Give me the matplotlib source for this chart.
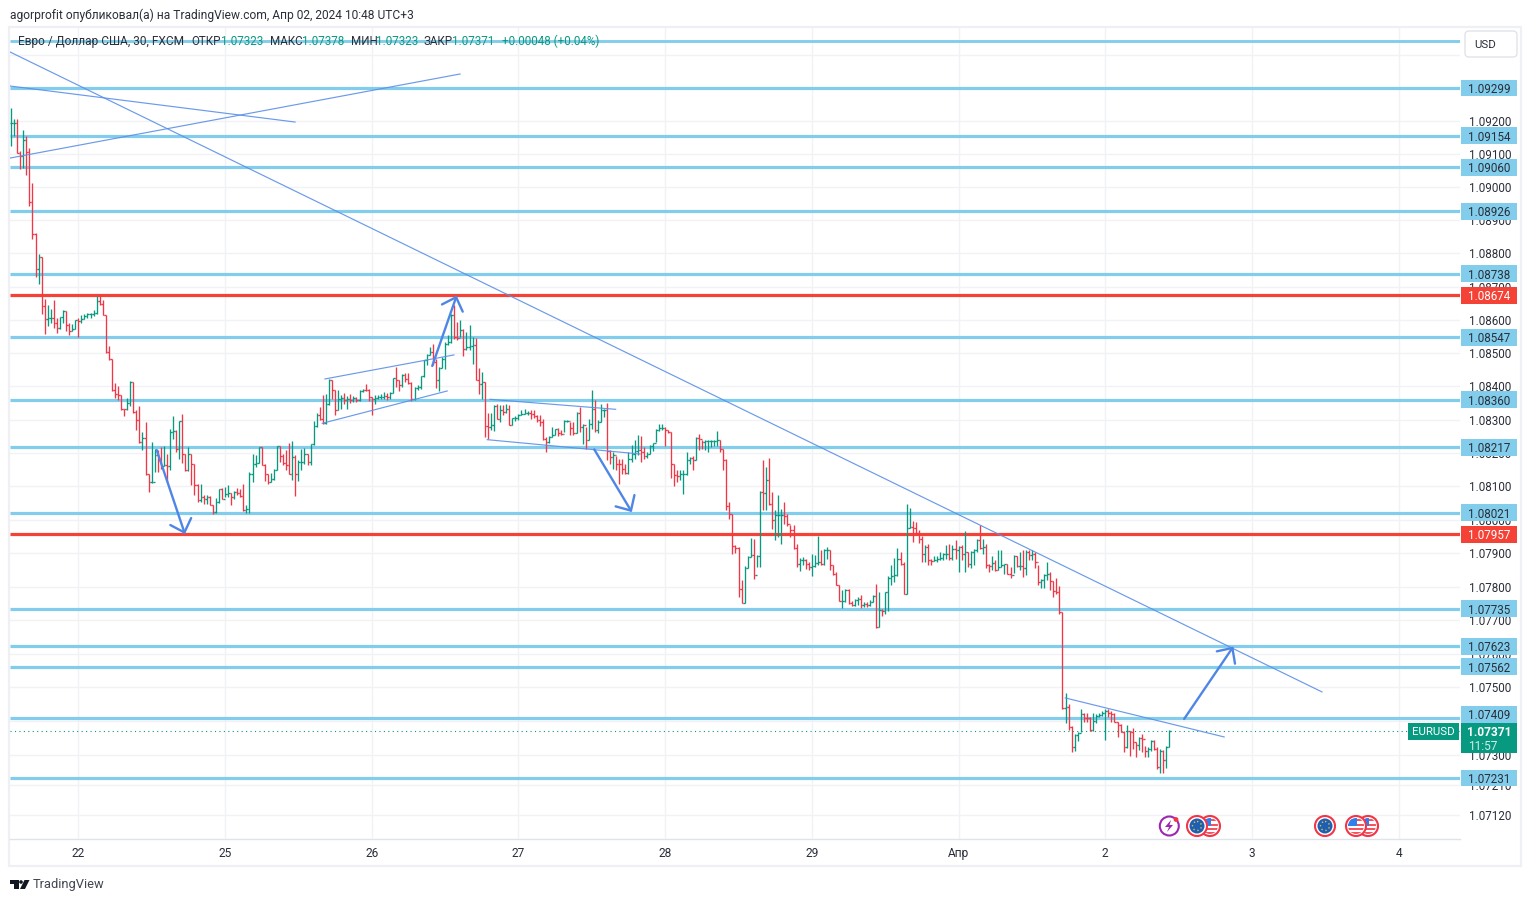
import math
import matplotlib
matplotlib.use('Agg')
import matplotlib.pyplot as plt
from matplotlib.patches import Rectangle, Circle, Polygon, FancyBboxPatch
from matplotlib.ticker import NullLocator
from matplotlib.transforms import blended_transform_factory

plt.rcParams['font.family'] = ['Roboto', 'DejaVu Sans']

# 30 min bars EURUSD with a straight ruler
high = [
    1.09238, 1.09206, 1.09206, 1.09110, 1.09173, 1.09155, 1.09118, 1.09013, 1.08863, 1.08800,
    1.08793, 1.08668, 1.08650, 1.08636, 1.08665, 1.08611, 1.08613, 1.08635, 1.08631, 1.08596,
    1.08593, 1.08605, 1.08611, 1.08618, 1.08621, 1.08626, 1.08626, 1.08633, 1.08675, 1.08683,
    1.08663, 1.08618, 1.08527, 1.08486, 1.08416, 1.08406, 1.08379, 1.08338, 1.08371, 1.08421,
    1.08419, 1.08333, 1.08347, 1.08269, 1.08299, 1.08141, 1.08237, 1.08218, 1.08213, 1.08223,
    1.08227, 1.08203, 1.08278, 1.08315, 1.08273, 1.08301, 1.08321, 1.08201, 1.08223, 1.08203,
    1.08173, 1.08113, 1.08113, 1.08078, 1.08080, 1.08075, 1.08048, 1.08070, 1.08098, 1.08101,
    1.08103, 1.08108, 1.08085, 1.08091, 1.08101, 1.08098, 1.08113, 1.08048, 1.08148, 1.08203,
    1.08198, 1.08223, 1.08223, 1.08171, 1.08143, 1.08145, 1.08158, 1.08227, 1.08225, 1.08203,
    1.08213, 1.08235, 1.08240, 1.08198, 1.08183, 1.08218, 1.08221, 1.08203, 1.08233, 1.08300,
    1.08326, 1.08343, 1.08378, 1.08381, 1.08428, 1.08425, 1.08395, 1.08393, 1.08378, 1.08385,
    1.08375, 1.08383, 1.08375, 1.08373, 1.08395, 1.08398, 1.08413, 1.08396, 1.08373, 1.08378,
    1.08378, 1.08383, 1.08387, 1.08385, 1.08388, 1.08431, 1.08463, 1.08425, 1.08441, 1.08446,
    1.08446, 1.08418, 1.08403, 1.08408, 1.08436, 1.08485, 1.08503, 1.08523, 1.08533, 1.08488,
    1.08463, 1.08493, 1.08538, 1.08558, 1.08623, 1.08648, 1.08598, 1.08603, 1.08578, 1.08568,
    1.08588, 1.08553, 1.08551, 1.08461, 1.08448, 1.08418, 1.08325, 1.08325, 1.08348, 1.08353,
    1.08348, 1.08350, 1.08351, 1.08348, 1.08311, 1.08315, 1.08323, 1.08333, 1.08338, 1.08331,
    1.08333, 1.08333, 1.08318, 1.08318, 1.08308, 1.08253, 1.08255, 1.08283, 1.08278, 1.08281,
    1.08273, 1.08303, 1.08305, 1.08298, 1.08298, 1.08328, 1.08343, 1.08293, 1.08283, 1.08308,
    1.08393, 1.08363, 1.08303, 1.08351, 1.08338, 1.08355, 1.08213, 1.08208, 1.08195, 1.08188,
    1.08188, 1.08173, 1.08208, 1.08228, 1.08243, 1.08258, 1.08255, 1.08223, 1.08208, 1.08228,
    1.08236, 1.08278, 1.08293, 1.08293, 1.08283, 1.08275, 1.08268, 1.08173, 1.08153, 1.08153,
    1.08153, 1.08208, 1.08193, 1.08195, 1.08253, 1.08263, 1.08243, 1.08243, 1.08245, 1.08243,
    1.08243, 1.08270, 1.08243, 1.08218, 1.08188, 1.08058, 1.08023, 1.07928, 1.07923, 1.07823,
    1.07865, 1.07895, 1.07951, 1.07948, 1.07898, 1.08091, 1.08183, 1.08163, 1.08191, 1.08088,
    1.08033, 1.08078, 1.08038, 1.08058, 1.08023, 1.07988, 1.07988, 1.07933, 1.07891, 1.07893,
    1.07888, 1.07878, 1.07901, 1.07898, 1.07955, 1.07915, 1.07918, 1.07923, 1.07915, 1.07868,
    1.07848, 1.07808, 1.07795, 1.07798, 1.07798, 1.07763, 1.07768, 1.07773, 1.07778, 1.07758,
    1.07758, 1.07765, 1.07778, 1.07813, 1.07788, 1.07738, 1.07788, 1.07835, 1.07868, 1.07891,
    1.07921, 1.07908, 1.07878, 1.08051, 1.08041, 1.08001, 1.07998, 1.07973, 1.07955, 1.07928,
    1.07931, 1.07888, 1.07895, 1.07895, 1.07908, 1.07905, 1.07928, 1.07931, 1.07928, 1.07945,
    1.07925, 1.07928, 1.07970, 1.07908, 1.07911, 1.07918, 1.07948, 1.07988, 1.07948, 1.07933,
    1.07873, 1.07895, 1.07883, 1.07915, 1.07913, 1.07873, 1.07873, 1.07863, 1.07898, 1.07895,
    1.07908, 1.07913, 1.07915, 1.07913, 1.07915, 1.07908, 1.07868, 1.07828, 1.07843, 1.07878,
    1.07848, 1.07821, 1.07831, 1.07805, 1.07728, 1.07485, 1.07453, 1.07388, 1.07363, 1.07368,
    1.07438, 1.07425, 1.07425, 1.07413, 1.07427, 1.07423, 1.07425, 1.07431, 1.07438, 1.07438,
    1.07433, 1.07425, 1.07400, 1.07393, 1.07371, 1.07391, 1.07373, 1.07381, 1.07338, 1.07353,
    1.07363, 1.07328, 1.07323, 1.07345, 1.07345, 1.07323, 1.07318, 1.07315, 1.07328, 1.07375,
]
low = [
    1.09126, 1.09156, 1.09103, 1.09055, 1.09058, 1.09039, 1.08946, 1.08845, 1.08733, 1.08712,
    1.08621, 1.08563, 1.08586, 1.08595, 1.08581, 1.08565, 1.08578, 1.08595, 1.08571, 1.08559,
    1.08571, 1.08576, 1.08553, 1.08595, 1.08608, 1.08611, 1.08609, 1.08615, 1.08623, 1.08648,
    1.08618, 1.08506, 1.08483, 1.08391, 1.08370, 1.08365, 1.08335, 1.08316, 1.08335, 1.08346,
    1.08326, 1.08275, 1.08235, 1.08214, 1.08140, 1.08088, 1.08116, 1.08148, 1.08148, 1.08158,
    1.08165, 1.08118, 1.08153, 1.08247, 1.08208, 1.08188, 1.08175, 1.08151, 1.08150, 1.08108,
    1.08078, 1.08058, 1.08058, 1.08051, 1.08053, 1.08048, 1.08021, 1.08025, 1.08055, 1.08068,
    1.08073, 1.08073, 1.08048, 1.08067, 1.08078, 1.08073, 1.08031, 1.08025, 1.08025, 1.08118,
    1.08163, 1.08175, 1.08168, 1.08121, 1.08111, 1.08118, 1.08123, 1.08153, 1.08178, 1.08168,
    1.08153, 1.08141, 1.08123, 1.08076, 1.08121, 1.08153, 1.08171, 1.08168, 1.08168, 1.08230,
    1.08283, 1.08303, 1.08293, 1.08293, 1.08348, 1.08368, 1.08318, 1.08333, 1.08336, 1.08351,
    1.08338, 1.08356, 1.08358, 1.08358, 1.08361, 1.08388, 1.08391, 1.08361, 1.08318, 1.08353,
    1.08366, 1.08366, 1.08368, 1.08365, 1.08368, 1.08385, 1.08403, 1.08391, 1.08403, 1.08418,
    1.08411, 1.08361, 1.08365, 1.08395, 1.08398, 1.08433, 1.08468, 1.08498, 1.08468, 1.08400,
    1.08390, 1.08461, 1.08458, 1.08528, 1.08535, 1.08548, 1.08545, 1.08553, 1.08495, 1.08513,
    1.08513, 1.08471, 1.08423, 1.08383, 1.08368, 1.08253, 1.08246, 1.08273, 1.08271, 1.08308,
    1.08298, 1.08318, 1.08325, 1.08288, 1.08288, 1.08301, 1.08305, 1.08318, 1.08321, 1.08318,
    1.08308, 1.08311, 1.08298, 1.08285, 1.08245, 1.08208, 1.08235, 1.08253, 1.08258, 1.08255,
    1.08258, 1.08268, 1.08298, 1.08258, 1.08258, 1.08265, 1.08268, 1.08233, 1.08216, 1.08243,
    1.08278, 1.08268, 1.08265, 1.08298, 1.08313, 1.08185, 1.08173, 1.08158, 1.08153, 1.08111,
    1.08143, 1.08141, 1.08143, 1.08178, 1.08188, 1.08198, 1.08178, 1.08188, 1.08191, 1.08203,
    1.08211, 1.08238, 1.08271, 1.08273, 1.08225, 1.08265, 1.08131, 1.08106, 1.08118, 1.08123,
    1.08083, 1.08138, 1.08173, 1.08155, 1.08183, 1.08215, 1.08218, 1.08213, 1.08208, 1.08223,
    1.08225, 1.08225, 1.08208, 1.08155, 1.08033, 1.08008, 1.07903, 1.07905, 1.07773, 1.07755,
    1.07755, 1.07861, 1.07893, 1.07828, 1.07863, 1.07863, 1.08033, 1.08033, 1.08048, 1.07978,
    1.07943, 1.07953, 1.07933, 1.07991, 1.07985, 1.07953, 1.07918, 1.07863, 1.07851, 1.07868,
    1.07858, 1.07853, 1.07835, 1.07863, 1.07868, 1.07868, 1.07868, 1.07888, 1.07855, 1.07838,
    1.07808, 1.07763, 1.07741, 1.07758, 1.07753, 1.07748, 1.07748, 1.07751, 1.07741, 1.07743,
    1.07745, 1.07748, 1.07758, 1.07681, 1.07683, 1.07718, 1.07723, 1.07731, 1.07808, 1.07818,
    1.07835, 1.07868, 1.07783, 1.07783, 1.07981, 1.07938, 1.07961, 1.07935, 1.07878, 1.07878,
    1.07868, 1.07868, 1.07880, 1.07878, 1.07883, 1.07885, 1.07888, 1.07883, 1.07885, 1.07888,
    1.07848, 1.07883, 1.07848, 1.07863, 1.07861, 1.07868, 1.07908, 1.07918, 1.07903, 1.07861,
    1.07848, 1.07853, 1.07851, 1.07853, 1.07863, 1.07843, 1.07841, 1.07831, 1.07845, 1.07863,
    1.07855, 1.07833, 1.07838, 1.07883, 1.07883, 1.07861, 1.07808, 1.07801, 1.07801, 1.07823,
    1.07793, 1.07773, 1.07781, 1.07723, 1.07438, 1.07395, 1.07375, 1.07308, 1.07311, 1.07341,
    1.07368, 1.07398, 1.07398, 1.07373, 1.07373, 1.07395, 1.07413, 1.07418, 1.07345, 1.07413,
    1.07398, 1.07398, 1.07355, 1.07368, 1.07308, 1.07320, 1.07298, 1.07318, 1.07295, 1.07315,
    1.07308, 1.07295, 1.07293, 1.07313, 1.07315, 1.07258, 1.07245, 1.07245, 1.07260, 1.07323,
]
close = [
    1.09193, 1.09193, 1.09103, 1.09095, 1.09143, 1.09108, 1.08956, 1.08860, 1.08758, 1.08793,
    1.08645, 1.08608, 1.08611, 1.08611, 1.08596, 1.08580, 1.08613, 1.08631, 1.08588, 1.08572,
    1.08578, 1.08603, 1.08601, 1.08606, 1.08615, 1.08621, 1.08623, 1.08626, 1.08661, 1.08651,
    1.08619, 1.08509, 1.08486, 1.08393, 1.08383, 1.08379, 1.08338, 1.08337, 1.08356, 1.08419,
    1.08328, 1.08305, 1.08237, 1.08251, 1.08141, 1.08118, 1.08118, 1.08198, 1.08183, 1.08165,
    1.08169, 1.08165, 1.08268, 1.08271, 1.08218, 1.08300, 1.08201, 1.08153, 1.08203, 1.08173,
    1.08108, 1.08063, 1.08073, 1.08068, 1.08073, 1.08048, 1.08028, 1.08058, 1.08096, 1.08068,
    1.08081, 1.08085, 1.08073, 1.08088, 1.08085, 1.08075, 1.08033, 1.08038, 1.08141, 1.08173,
    1.08176, 1.08223, 1.08170, 1.08143, 1.08118, 1.08128, 1.08153, 1.08225, 1.08195, 1.08175,
    1.08168, 1.08143, 1.08193, 1.08141, 1.08178, 1.08178, 1.08203, 1.08178, 1.08233, 1.08285,
    1.08318, 1.08308, 1.08295, 1.08353, 1.08425, 1.08395, 1.08333, 1.08368, 1.08370, 1.08363,
    1.08368, 1.08365, 1.08371, 1.08363, 1.08391, 1.08395, 1.08393, 1.08373, 1.08368, 1.08371,
    1.08373, 1.08373, 1.08375, 1.08373, 1.08386, 1.08429, 1.08425, 1.08408, 1.08439, 1.08428,
    1.08415, 1.08368, 1.08401, 1.08403, 1.08435, 1.08483, 1.08498, 1.08508, 1.08478, 1.08425,
    1.08461, 1.08488, 1.08533, 1.08538, 1.08618, 1.08553, 1.08551, 1.08573, 1.08518, 1.08523,
    1.08525, 1.08528, 1.08425, 1.08413, 1.08418, 1.08285, 1.08283, 1.08288, 1.08346, 1.08308,
    1.08333, 1.08328, 1.08338, 1.08290, 1.08310, 1.08311, 1.08320, 1.08323, 1.08326, 1.08326,
    1.08323, 1.08315, 1.08303, 1.08298, 1.08248, 1.08238, 1.08253, 1.08258, 1.08278, 1.08265,
    1.08263, 1.08301, 1.08301, 1.08280, 1.08265, 1.08326, 1.08283, 1.08288, 1.08243, 1.08293,
    1.08338, 1.08275, 1.08298, 1.08333, 1.08335, 1.08211, 1.08193, 1.08198, 1.08173, 1.08171,
    1.08158, 1.08145, 1.08188, 1.08201, 1.08211, 1.08213, 1.08208, 1.08195, 1.08201, 1.08226,
    1.08236, 1.08275, 1.08281, 1.08281, 1.08275, 1.08268, 1.08173, 1.08138, 1.08135, 1.08141,
    1.08141, 1.08183, 1.08191, 1.08183, 1.08251, 1.08248, 1.08238, 1.08240, 1.08241, 1.08241,
    1.08242, 1.08243, 1.08218, 1.08185, 1.08045, 1.08023, 1.07925, 1.07921, 1.07798, 1.07755,
    1.07861, 1.07893, 1.07898, 1.07840, 1.07895, 1.08088, 1.08085, 1.08125, 1.08051, 1.08005,
    1.08018, 1.08018, 1.08018, 1.08016, 1.07991, 1.07975, 1.07920, 1.07873, 1.07883, 1.07885,
    1.07873, 1.07863, 1.07865, 1.07875, 1.07878, 1.07873, 1.07913, 1.07915, 1.07868, 1.07841,
    1.07810, 1.07763, 1.07763, 1.07795, 1.07755, 1.07751, 1.07766, 1.07768, 1.07751, 1.07753,
    1.07750, 1.07760, 1.07775, 1.07683, 1.07735, 1.07731, 1.07788, 1.07831, 1.07835, 1.07838,
    1.07888, 1.07873, 1.07783, 1.07981, 1.07983, 1.07981, 1.07965, 1.07948, 1.07903, 1.07923,
    1.07885, 1.07880, 1.07885, 1.07888, 1.07891, 1.07901, 1.07903, 1.07891, 1.07918, 1.07913,
    1.07923, 1.07903, 1.07908, 1.07871, 1.07908, 1.07915, 1.07943, 1.07921, 1.07923, 1.07868,
    1.07865, 1.07875, 1.07853, 1.07863, 1.07868, 1.07871, 1.07843, 1.07838, 1.07895, 1.07865,
    1.07865, 1.07861, 1.07908, 1.07898, 1.07903, 1.07878, 1.07818, 1.07823, 1.07838, 1.07841,
    1.07821, 1.07790, 1.07788, 1.07728, 1.07441, 1.07445, 1.07383, 1.07323, 1.07361, 1.07365,
    1.07423, 1.07411, 1.07410, 1.07375, 1.07403, 1.07418, 1.07421, 1.07426, 1.07433, 1.07425,
    1.07423, 1.07400, 1.07391, 1.07368, 1.07323, 1.07371, 1.07368, 1.07338, 1.07331, 1.07351,
    1.07348, 1.07313, 1.07318, 1.07343, 1.07318, 1.07263, 1.07313, 1.07285, 1.07323, 1.07371,
]
last_price = 1.07371

# horizontal levels
level_prices = [1.09299, 1.09154, 1.09060, 1.08926, 1.08738, 1.08674, 1.08547, 1.08360,
                1.08217, 1.08021, 1.07957, 1.07735, 1.07623, 1.07562, 1.07409, 1.07231]
red_levels = [1.08674, 1.07957]
top_level = 1.09440

# price axis
price_ticks = [1.09400, 1.09300, 1.09200, 1.09100, 1.09000, 1.08900, 1.08800, 1.08700, 1.08600,
               1.08500, 1.08400, 1.08300, 1.08200, 1.08100, 1.08000, 1.07900, 1.07800,
               1.07700, 1.07600, 1.07500, 1.07400, 1.07300, 1.07210, 1.07120]
hidden_ticks = [1.09400, 1.09300]

# time axis, bar numbers where the days start
day_bars = [22, 70, 118, 166, 214, 262, 310, 358, 406, 454]
day_labels = ['22', '25', '26', '27', '28', '29', 'Апр', '2', '3', '4']

# drawings: (bar, price, bar, price), same straight ruler as the bars
trend_lines = [
    (-0.35, 1.09407, 428.9, 1.07489),
    (-0.35, 1.09305, 92.9, 1.09197),
    (-0.35, 1.09089, 146.9, 1.09341),
    (102.7, 1.08427, 144.9, 1.08499),
    (101.8, 1.08294, 142.7, 1.08391),
    (156.7, 1.08366, 197.8, 1.08336),
    (155.8, 1.08245, 205.8, 1.08202),
    (344.9, 1.07471, 396.9, 1.07354),
]
arrows = [
    (47.65, 1.08214, 56.9, 1.07962),
    (137.8, 1.08466, 145.8, 1.08677),
    (190.8, 1.08216, 203.1, 1.08028),
    (383.8, 1.07408, 399.9, 1.07625),
]

legend_parts = [
    (18, 'Евро / Доллар США, 30, FXCM', 'k'), (191, 'ОТКР', 'k'), (221, '1.07323', 'g'),
    (270, 'МАКС', 'k'), (302, '1.07378', 'g'), (351, 'МИН', 'k'), (376, '1.07323', 'g'),
    (424, 'ЗАКР', 'k'), (452, '1.07371', 'g'), (502, '+0.00048 (+0.04%)', 'g'),
]

GREEN = '#089981'
RED = '#f23645'
SKY = '#82cdeb'
LEVEL_RED = '#f44336'
BLUE = '#5b8fe8'
TEXT = '#2a2e39'

# the price scale of the chart is logarithmic
LOG_PX = 690 / math.log(1.09299 / 1.07231)


def ruled(p):
    # value read with the straight ruler -> price on the log scale
    y = (1.09299 - p) * 33366
    return 1.09299 * math.exp(-y / LOG_PX)


W, H = 1531, 902
fig = plt.figure(figsize=(W / 100, H / 100), dpi=100, facecolor='white')

# overlay in pixels for the page furniture
page = fig.add_axes([0, 0, 1, 1], zorder=0)
page.set_xlim(0, W)
page.set_ylim(H, 0)
page.axis('off')
page.add_patch(Rectangle((9, 27), 1512, 839, fc='white', ec='#eef0f6', lw=1.6))
page.plot([10, 1460], [839, 839], color='#e0e3eb', lw=1)

ax = fig.add_axes([10 / W, 1 - 839 / H, 1450 / W, 812 / H], zorder=1)
ax.patch.set_alpha(0)
for s in ax.spines.values():
    s.set_visible(False)
ax.set_yscale('log')
ax.set_xlim(-0.346, 474.05)
ax.set_ylim(1.07231 * math.exp(-61 / LOG_PX), 1.09299 * math.exp(61 / LOG_PX))

ax.set_yticks(price_ticks)
ax.set_yticklabels(['' if p in hidden_ticks else f'{p:.5f}' for p in price_ticks])
ax.yaxis.set_minor_locator(NullLocator())
ax.yaxis.tick_right()
ax.tick_params(axis='y', length=0, pad=6.5, labelsize=8.4, labelcolor=TEXT)
ax.set_xticks(day_bars)
ax.set_xticklabels(day_labels)
ax.tick_params(axis='x', length=0, pad=5.8, labelsize=8.6, labelcolor=TEXT)
ax.grid(True, color='#f0f2f6', lw=1)
ax.set_axisbelow(True)

# levels
ax.hlines(top_level, -0.346, 474.05, color=SKY, lw=2.1, zorder=2)
for p in level_prices:
    c = LEVEL_RED if p in red_levels else SKY
    ax.hlines(p, -0.346, 474.05, color=c, lw=2.3, zorder=2)

# bars: open tick on the left, close tick on the right, open is the previous close
bars = list(range(len(close)))
opens = [close[0]] + close[:-1]
colors = [GREEN if c >= o else RED for o, c in zip(opens, close)]
ax.vlines(bars, [ruled(p) for p in low], [ruled(p) for p in high], colors=colors, lw=0.95, zorder=3)
ax.hlines([ruled(p) for p in opens], [b - 0.5 for b in bars], bars, colors=colors, lw=0.95, zorder=3)
ax.hlines([ruled(p) for p in close], bars, [b + 0.5 for b in bars], colors=colors, lw=0.95, zorder=3)

# last price line
ax.hlines(last_price, -0.346, 474.05, color=GREEN, lw=0.8, ls=(0, (1, 3)), zorder=3)

# drawings
for x0, y0, x1, y1 in trend_lines:
    ax.plot([x0, x1], [ruled(y0), ruled(y1)], color=BLUE, lw=0.85, alpha=0.9, zorder=4)
for x0, y0, x1, y1 in arrows:
    ax.annotate('', xy=(x1, ruled(y1)), xytext=(x0, ruled(y0)), zorder=4, annotation_clip=False,
                arrowprops=dict(arrowstyle='->,head_length=0.83,head_width=0.79', color='#4f86e6',
                                lw=1.7, shrinkA=0, shrinkB=0, mutation_scale=10))

# price labels on the axis
tr = blended_transform_factory(ax.transAxes, ax.transData)
box_x0 = 1451 / 1450
box_w = 56 / 1450
label_nudge = {1.07409: 4}  # pushed up by the last price tag
for p in level_prices:
    c = LEVEL_RED if p in red_levels else SKY
    mid = p * math.exp(label_nudge.get(p, 0) / LOG_PX)
    lo, up = mid * math.exp(-8.5 / LOG_PX), mid * math.exp(8.5 / LOG_PX)
    ax.add_patch(Rectangle((box_x0, lo), box_w, up - lo, transform=tr, fc=c, ec='none',
                           clip_on=False, zorder=6))
    ax.text(box_x0 + box_w / 2, mid, f'{p:.5f}', transform=tr, ha='center', va='center_baseline',
            fontsize=8.4, color='white' if p in red_levels else TEXT, clip_on=False, zorder=7)

# last price tag
tag_lo, tag_up = last_price * math.exp(-22 / LOG_PX), last_price * math.exp(8 / LOG_PX)
ax.add_patch(Rectangle((box_x0, tag_lo), box_w, tag_up - tag_lo, transform=tr,
                       fc=GREEN, ec='none', clip_on=False, zorder=6))
ax.text(box_x0 + box_w / 2, last_price, f'{last_price:.5f}', transform=tr, ha='center',
        va='center_baseline', fontsize=8.6, fontweight='bold', color='white', clip_on=False, zorder=7)
ax.text(box_x0 + box_w / 2 - 0.004, last_price * math.exp(-14 / LOG_PX), '11:57', transform=tr, ha='center',
        va='center_baseline', fontsize=8.6, color='#cfeee7', clip_on=False, zorder=7)
ax.add_patch(Rectangle((1398 / 1450, last_price * math.exp(-9 / LOG_PX)), 51 / 1450,
                       last_price * (math.exp(8 / LOG_PX) - math.exp(-9 / LOG_PX)), transform=tr,
                       fc=GREEN, ec='none', clip_on=False, zorder=6))
ax.text(1423.5 / 1450, last_price, 'EURUSD', transform=tr, ha='center', va='center_baseline',
        fontsize=8.2, color='white', clip_on=False, zorder=7)

# top layer for legend, logo, icons
top = fig.add_axes([0, 0, 1, 1], zorder=2)
top.set_xlim(0, W)
top.set_ylim(H, 0)
top.axis('off')
top.patch.set_alpha(0)

top.text(10, 15, 'agorprofit опубликовал(а) на TradingView.com, Апр 02, 2024 10:48 UTC+3',
         fontsize=8.65, color=TEXT, va='center')
for x, s, c in legend_parts:
    size = 8.6 if x == 18 else 8.4
    top.text(x, 41.5, s, fontsize=size, color=TEXT if c == 'k' else GREEN, va='center')

top.add_patch(FancyBboxPatch((1467, 33), 48, 22, boxstyle='round,pad=2,rounding_size=4', fc='white',
                             ec='#e0e3eb', lw=1))
top.text(1485, 44.5, 'USD', fontsize=8.2, color=TEXT, ha='center', va='center')


def eu_icon(cx, cy):
    top.add_patch(Circle((cx, cy), 10, fc='white', ec=RED, lw=1.5))
    top.add_patch(Circle((cx, cy), 7.5, fc='#1d5fb4', ec='none'))
    top.add_patch(Circle((cx, cy), 4.5, fc='none', ec='#e6c229', lw=1, ls=(0, (1, 2))))


def us_icon(cx, cy):
    ring = Circle((cx, cy), 10, fc='white', ec=RED, lw=1.5)
    top.add_patch(ring)
    clip = Circle((cx, cy), 8, transform=top.transData)
    for dy in [-7, -2.5, 2, 6]:
        r = Rectangle((cx - 8, cy + dy), 16, 2.2, fc='#f7525f', ec='none')
        top.add_patch(r)
        r.set_clip_path(clip)
    c = Rectangle((cx - 8, cy - 8), 9, 8, fc='#2f80ed', ec='none')
    top.add_patch(c)
    c.set_clip_path(clip)


# event marks under the bars
top.add_patch(Circle((1169.3, 826), 9.5, fc='white', ec='#9c27b0', lw=1.5))
top.add_patch(Polygon([(1171, 820), (1165, 827), (1169, 827), (1167, 832), (1173, 825), (1169.5, 825)],
                      fc='#9c27b0', ec='none'))
top.add_patch(Circle((1176, 819.5), 2.4, fc=RED, ec='none'))
us_icon(1210, 826)
eu_icon(1197, 826)
eu_icon(1325, 826)
us_icon(1368, 826)
us_icon(1356, 826)

# TradingView logo
top.add_patch(Polygon([(10, 880), (18.5, 880), (18.5, 889), (14, 889), (14, 884), (10, 884)], fc='#131722', ec='none'))
top.add_patch(Circle((21, 882), 1.8, fc='#131722', ec='none'))
top.add_patch(Polygon([(24.5, 880), (29.5, 880), (25, 889), (20, 889)], fc='#131722', ec='none'))
top.text(33, 884.5, 'TradingView', fontsize=9.3, color='#434651', va='center')

fig.savefig('out.png', dpi=100)
